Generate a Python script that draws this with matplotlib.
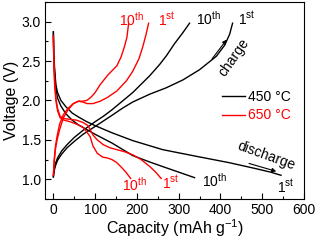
import matplotlib
matplotlib.use("Agg")
import matplotlib.pyplot as plt
from matplotlib.ticker import MultipleLocator

plt.rcParams['font.family'] = ['Liberation Sans', 'DejaVu Sans']
plt.rcParams['mathtext.fontset'] = 'custom'
plt.rcParams['mathtext.rm'] = 'Liberation Sans'
plt.rcParams['mathtext.it'] = 'Liberation Sans:italic'

# 450 °C (black)
b_ch1_x = [0, 2, 5, 10, 20, 33, 50, 71, 100, 120, 140, 165, 190, 231, 270, 310, 350, 390, 410, 422, 429]
b_ch1_y = [1.03, 1.11, 1.17, 1.24, 1.32, 1.40, 1.48, 1.57, 1.67, 1.74, 1.81, 1.90, 1.98, 2.08, 2.16, 2.26, 2.39, 2.56, 2.70, 2.84, 2.98]
b_ch10_x = [0, 2, 5, 10, 20, 33, 50, 71, 100, 120, 140, 165, 190, 230, 255, 271, 290, 310, 326]
b_ch10_y = [1.03, 1.13, 1.20, 1.27, 1.36, 1.44, 1.53, 1.62, 1.73, 1.80, 1.88, 1.99, 2.10, 2.31, 2.46, 2.57, 2.72, 2.86, 2.98]
b_dc1_x = [0, 1, 3, 6, 10, 18, 30, 45, 60, 80, 100, 140, 190, 262, 343, 421, 480, 520, 545]
b_dc1_y = [2.87, 2.60, 2.40, 2.20, 2.10, 2.00, 1.92, 1.84, 1.79, 1.73, 1.68, 1.59, 1.49, 1.375, 1.29, 1.21, 1.14, 1.09, 1.05]
b_dc10_x = [0, 1, 3, 6, 10, 18, 30, 45, 60, 80, 100, 140, 190, 230, 262, 300, 338]
b_dc10_y = [2.87, 2.55, 2.35, 2.15, 2.03, 1.93, 1.83, 1.75, 1.69, 1.63, 1.57, 1.46, 1.30, 1.22, 1.16, 1.09, 1.02]

# 650 °C (red)
r_ch1_x = [0, 2, 5, 9, 15, 24, 35, 48, 60, 70, 81, 95, 112, 130, 152, 175, 190, 205, 214, 222, 228]
r_ch1_y = [1.05, 1.22, 1.38, 1.50, 1.63, 1.78, 1.88, 1.96, 1.99, 1.98, 1.96, 1.96, 1.99, 2.04, 2.12, 2.25, 2.37, 2.53, 2.68, 2.84, 2.98]
r_ch10_x = [0, 2, 5, 9, 15, 24, 35, 48, 60, 70, 80, 90, 100, 112, 130, 152, 162, 170, 176, 180]
r_ch10_y = [1.05, 1.25, 1.42, 1.55, 1.70, 1.82, 1.90, 1.96, 1.99, 1.99, 2.00, 2.04, 2.10, 2.20, 2.32, 2.44, 2.55, 2.68, 2.80, 2.97]
r_dc1_x = [0, 1, 3, 6, 10, 16, 25, 40, 55, 71, 83, 95, 105, 119, 135, 152, 170, 190, 210, 231, 245, 258]
r_dc1_y = [2.82, 2.50, 2.25, 2.03, 1.90, 1.80, 1.77, 1.76, 1.75, 1.72, 1.68, 1.56, 1.50, 1.44, 1.40, 1.375, 1.35, 1.31, 1.25, 1.16, 1.09, 1.01]
r_dc10_x = [0, 1, 3, 6, 10, 16, 25, 40, 55, 71, 80, 88, 95, 105, 118, 129, 140, 152, 165, 175, 185]
r_dc10_y = [2.82, 2.50, 2.20, 2.00, 1.87, 1.78, 1.75, 1.73, 1.70, 1.66, 1.60, 1.54, 1.42, 1.33, 1.28, 1.27, 1.25, 1.21, 1.14, 1.08, 1.01]

fig = plt.figure(figsize=(3.17, 2.42), dpi=100)
ax = fig.add_axes([0.142, 0.178, 0.817, 0.814])

lw = 1.0
ax.plot(b_ch1_x, b_ch1_y, color='black', lw=lw, label='450 °C')
ax.plot(b_ch10_x, b_ch10_y, color='black', lw=lw)
ax.plot(b_dc1_x, b_dc1_y, color='black', lw=lw)
ax.plot(b_dc10_x, b_dc10_y, color='black', lw=lw)
ax.plot(r_ch1_x, r_ch1_y, color='red', lw=lw, label='650 °C')
ax.plot(r_ch10_x, r_ch10_y, color='red', lw=lw)
ax.plot(r_dc1_x, r_dc1_y, color='red', lw=lw)
ax.plot(r_dc10_x, r_dc10_y, color='red', lw=lw)

ax.set_xlim(-20, 600)
ax.set_ylim(0.75, 3.25)
ax.xaxis.set_major_locator(MultipleLocator(100))
ax.xaxis.set_minor_locator(MultipleLocator(50))
ax.yaxis.set_major_locator(MultipleLocator(0.5))
ax.yaxis.set_minor_locator(MultipleLocator(0.25))
ax.yaxis.set_major_formatter(matplotlib.ticker.FormatStrFormatter('%.1f'))
ax.tick_params(which='both', direction='in', labelsize=10, width=0.8)
ax.tick_params(which='major', length=4, pad=3)
ax.tick_params(which='minor', length=2.5)
for s in ax.spines.values():
    s.set_linewidth(0.8)

ax.set_xlabel(r'Capacity (mAh g$^{-1}$)', fontsize=11.5, labelpad=0)
ax.set_ylabel('Voltage (V)', fontsize=11.5, labelpad=2)

fs = 10
sup = lambda n, s: n + r'$^{\mathrm{' + s + '}}$'
ax.text(188, 3.03, sup('10', 'th'), color='red', fontsize=fs, ha='center', va='center')
ax.text(271, 3.02, sup('1', 'st'), color='red', fontsize=fs, ha='center', va='center')
ax.text(371, 3.04, sup('10', 'th'), color='black', fontsize=fs, ha='center', va='center')
ax.text(462, 3.04, sup('1', 'st'), color='black', fontsize=fs, ha='center', va='center')

ax.text(195, 0.925, sup('10', 'th'), color='red', fontsize=fs, ha='center', va='center')
ax.text(281, 0.95, sup('1', 'st'), color='red', fontsize=fs, ha='center', va='center')
ax.text(386, 0.975, sup('10', 'th'), color='black', fontsize=fs, ha='center', va='center')
ax.text(557, 0.91, sup('1', 'st'), color='black', fontsize=fs, ha='center', va='center')

ax.text(431, 2.55, 'charge', fontsize=fs, rotation=55, ha='center', va='center', rotation_mode='anchor')
ax.annotate('', xy=(419, 2.80), xytext=(376, 2.50),
            arrowprops=dict(arrowstyle='-|>', color='black', lw=0.8, mutation_scale=6))
ax.text(510, 1.30, 'discharge', fontsize=fs, rotation=-20, ha='center', va='center', rotation_mode='anchor')
ax.annotate('', xy=(540, 1.09), xytext=(462, 1.21),
            arrowprops=dict(arrowstyle='-|>', color='black', lw=0.8, mutation_scale=6))

leg = ax.legend(loc='center left', bbox_to_anchor=(0.683, 0.47), frameon=False,
                fontsize=fs, handlelength=1.65, handletextpad=0.25, labelspacing=0.3,
                borderpad=0, borderaxespad=0)
for t, c in zip(leg.get_texts(), ['black', 'red']):
    t.set_color(c)

fig.savefig('out.png', dpi=100)
